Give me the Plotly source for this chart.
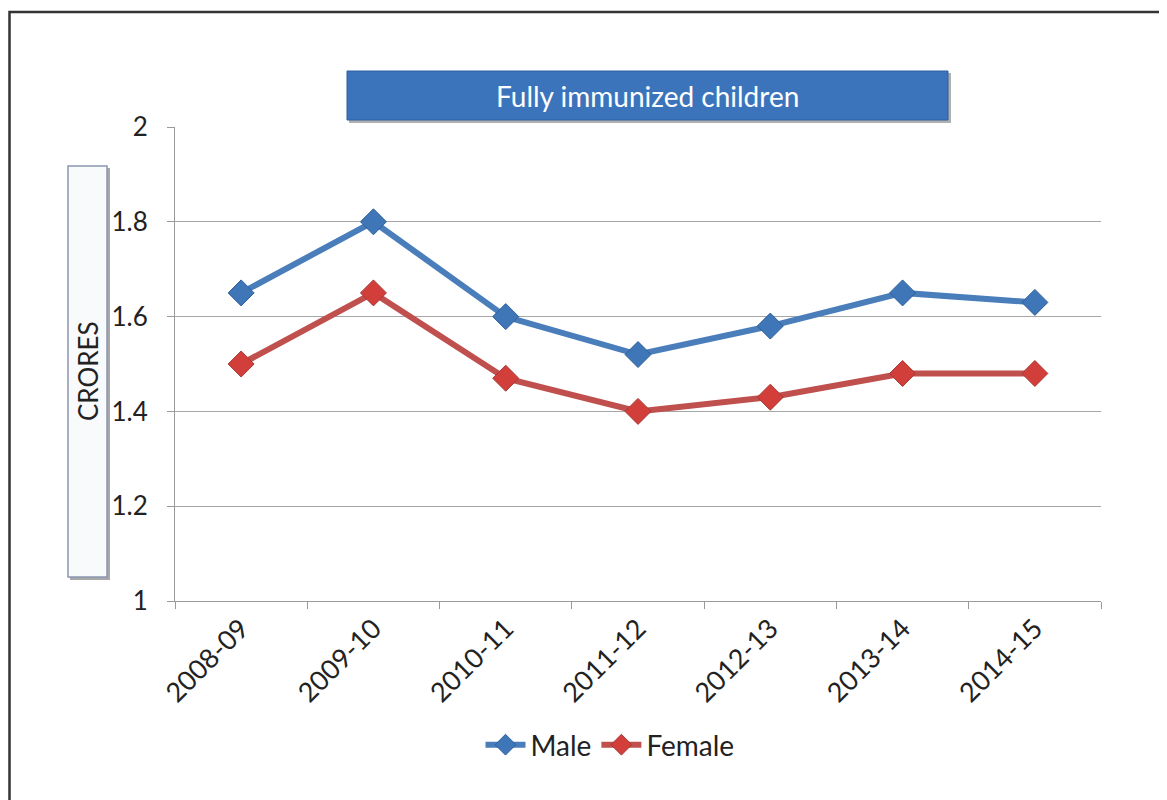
import plotly.graph_objects as go

years = ["2008-09", "2009-10", "2010-11", "2011-12", "2012-13", "2013-14", "2014-15"]
male = [1.65, 1.80, 1.60, 1.52, 1.58, 1.65, 1.63]
female = [1.50, 1.65, 1.47, 1.40, 1.43, 1.48, 1.48]
y_ticks = [1, 1.2, 1.4, 1.6, 1.8, 2]
y_tick_text = ["1", "1.2", "1.4", "1.6", "1.8", "2"]

# page has an 8px body margin; work in target-pixel coordinates and offset
OFF = 8
W, H = 1167 - OFF, 800 - OFF
L, R, T, B = 175, 1101, 127, 601  # target pixel positions of plot area
FONT = "Lato, Open Sans, sans-serif"


def px(x):
    return (x - L) / (R - L)


def py(y):
    return (B - y) / (B - T)


fig = go.Figure()
fig.add_trace(go.Scatter(
    x=years, y=male, name="Male", mode="lines+markers",
    line=dict(color="#4A7EBB", width=6),
    marker=dict(symbol="diamond", size=20, color="#3F76B8",
                line=dict(color="#2F5F99", width=1)),
))
fig.add_trace(go.Scatter(
    x=years, y=female, name="Female", mode="lines+markers",
    line=dict(color="#C0504D", width=6),
    marker=dict(symbol="diamond", size=20, color="#D23F3B",
                line=dict(color="#A33A37", width=1)),
))

shapes = [
    # outer border
    dict(type="rect", xref="paper", yref="paper",
         x0=px(9.5), x1=px(1185), y0=py(815), y1=py(12),
         line=dict(color="#333333", width=2.5), fillcolor="rgba(0,0,0,0)", layer="below"),
    # title box shadow
    dict(type="rect", xref="paper", yref="paper",
         x0=px(349), x1=px(951), y0=py(123), y1=py(73),
         line=dict(width=0), fillcolor="rgba(80,80,80,0.45)"),
    # title box
    dict(type="rect", xref="paper", yref="paper",
         x0=px(347), x1=px(948), y0=py(120), y1=py(71),
         line=dict(color="#2C5E9E", width=1), fillcolor="#3C74BC"),
    # y-label box shadow
    dict(type="rect", xref="paper", yref="paper",
         x0=px(70), x1=px(110), y0=py(580), y1=py(168),
         line=dict(width=0), fillcolor="#A8A8A8"),
    # y-label box
    dict(type="rect", xref="paper", yref="paper",
         x0=px(68), x1=px(107), y0=py(577), y1=py(166),
         line=dict(color="#8A96B0", width=1.5), fillcolor="#F9FAFC"),
]

annotations = [
    dict(text="Fully immunized children", xref="paper", yref="paper",
         x=px(647.5), y=py(96), showarrow=False,
         font=dict(family=FONT, size=28, color="white"),
         xanchor="center", yanchor="middle"),
    dict(text="CRORES", xref="paper", yref="paper",
         x=px(88), y=py(371), showarrow=False, textangle=-90,
         font=dict(family=FONT, size=26, color="#222222"),
         xanchor="center", yanchor="middle"),
]

fig.update_layout(
    width=W, height=H, autosize=False,
    margin=dict(l=L - OFF, r=W - (R - OFF), t=T - OFF, b=H - (B - OFF), pad=0),
    paper_bgcolor="white", plot_bgcolor="white",
    shapes=shapes, annotations=annotations,
    font=dict(family=FONT, size=24, color="#222222"),
    legend=dict(orientation="h", x=px(610), y=py(745),
                xanchor="center", yanchor="middle",
                font=dict(family=FONT, size=28, color="#222222"),
                itemwidth=40, bgcolor="rgba(0,0,0,0)"),
    showlegend=True,
)

fig.update_xaxes(
    type="category", categoryorder="array", categoryarray=years,
    tickmode="array", tickvals=years, ticktext=years,
    tickson="boundaries", ticks="outside", ticklen=7,
    tickcolor="#9A9A9A", tickwidth=1,
    showline=True, linecolor="#9A9A9A", linewidth=1,
    showgrid=False, tickangle=-45,
    tickfont=dict(family=FONT, size=27, color="#222222"),
    range=[-0.5, 6.5],
)
fig.update_yaxes(
    range=[1, 2], tickmode="array", tickvals=y_ticks, ticktext=y_tick_text,
    ticks="outside", ticklen=7, tickcolor="#9A9A9A", tickwidth=1,
    showline=True, linecolor="#9A9A9A", linewidth=1,
    showgrid=True, gridcolor="#A6A6A6", gridwidth=1,
    zeroline=False, ticklabelstandoff=14,
    tickfont=dict(family=FONT, size=26, color="#222222"),
)

fig.write_html("out.html")
